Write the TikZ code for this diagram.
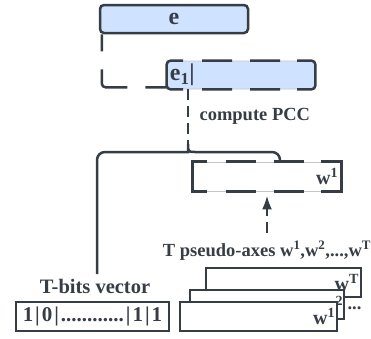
\documentclass[tikz,border=0pt]{standalone}
\usepackage{fontspec}
\setmainfont{Liberation Serif}
\usetikzlibrary{arrows.meta}
\definecolor{linecol}{RGB}{55,61,69}
\definecolor{boxblue}{RGB}{207,226,255}

\begin{document}
\begin{tikzpicture}[x=1pt,y=-1pt,color=linecol,line width=2.5pt,
    font=\fontsize{18.5}{22}\selectfont\bfseries,
    bluebox/.style={draw,fill=boxblue,rounded corners=4pt,minimum width=148pt,minimum height=28pt,inner sep=2pt},
    dashbox/.style={draw=gray!45,line width=0.8pt,minimum width=148pt,minimum height=29pt,inner sep=2pt},
    plainbox/.style={draw,fill=white,minimum height=29pt,inner sep=2pt},
    sidedash/.style={dash pattern=on 29pt off 19pt on 30pt off 18pt on 30pt off 17pt on 60pt off 1pt},
    shortdash/.style={dash pattern=on 11pt off 6pt},
    elabel/.style={font=\fontsize{24}{25}\selectfont\bfseries},
    wlabel/.style={anchor=east,inner sep=2pt,font=\fontsize{20}{22}\selectfont\bfseries}]
    \useasboundingbox (0,0) rectangle (371,338);
    % embedding e and its first part
    \node[bluebox,elabel] at (174,19) (e) {e};
    \node[dashbox,fill=boxblue,rounded corners=4pt,minimum height=28pt] at (241,75) (e1) {};
    \draw[sidedash,rounded corners=4pt] (e1.west) |- (e1.north east) -- (e1.east);
    \draw[sidedash,rounded corners=4pt] (e1.west) |- (e1.south east) -- (e1.east);
    \node[elabel,anchor=west,inner sep=2pt] at (e1.west) (e1lbl) {e\textsubscript{1}|};
    \node[anchor=west] at (195,116) (pcc) {compute PCC};
    % first pseudo-axis
    \node[dashbox] at (267,176.5) (w1d) {};
    \draw[sidedash] (w1d.west) |- (w1d.north east) -- (w1d.east);
    \draw[sidedash] (w1d.west) |- (w1d.south east) -- (w1d.east);
    \node[wlabel] at (w1d.east) (w1dlbl) {w\textsuperscript{1}};
    % stack of pseudo-axes
    \node[inner sep=1pt,anchor=base] at (267,256) (tpa) {T pseudo-axes w\textsuperscript{1},w\textsuperscript{2},...,w\textsuperscript{T}};
    \node[plainbox,minimum width=155pt] at (283.5,282.5) (wT) {};
    \node[wlabel] at (wT.east) (wTlbl) {w\textsuperscript{T}};
    \node[plainbox,minimum width=154pt] at (267,304.5) (w2) {};
    \node[wlabel,inner sep=1pt] at (w2.east) (w2lbl) {w\textsuperscript{2}};
    \node[anchor=west,inner sep=1pt] at ([yshift=-4pt]w2.east) (dots) {...};
    \node[plainbox,minimum width=157pt] at (258.5,316.5) (w1) {};
    \node[wlabel] at (w1.east) (w1lbl) {w\textsuperscript{1}};
    % bit vector
    \node[font=\fontsize{20.5}{22}\selectfont\bfseries] at (95,286) (tbl) {T-bits vector};
    \node[plainbox,minimum width=153pt,font=\fontsize{21}{22}\selectfont\bfseries] at (92.5,316.5) (bits) {1\hspace{2pt}|\hspace{2pt}0\hspace{2pt}|\hspace{2pt}............\hspace{2pt}|\hspace{2pt}1\hspace{2pt}|\hspace{2pt}1};
    % links
    \coordinate (tip) at (188,144);
    \draw[dash pattern=on 42pt off 18pt,dash phase=25pt,rounded corners=4pt] ([xshift=3pt]e.south west) |- ([yshift=2pt]e1.south west);
    \draw[shortdash] (e1.south -| tip) -- (tip);
    \draw ([xshift=2pt]tbl.north) [rounded corners=8pt] |- (180,152) [sharp corners] .. controls (188,152) .. (tip) .. controls (188,152) .. (196,152) [rounded corners=8pt] -| ([xshift=13pt]w1d.north);
    \draw[shortdash,-{Latex[length=14pt,width=10pt]},shorten <=6pt,shorten >=4pt] (tpa.north) -- (w1d.south);
\end{tikzpicture}
\end{document}
